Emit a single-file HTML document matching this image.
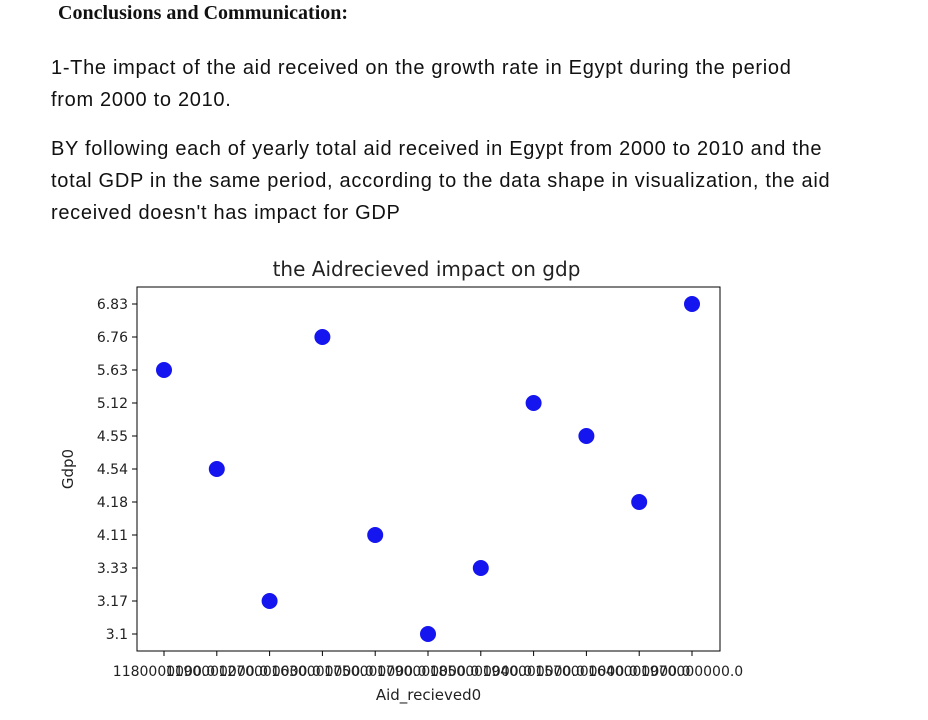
<!DOCTYPE html>
<html><head><meta charset="utf-8"><style>
body{margin:0;width:928px;height:720px;background:#fff;overflow:hidden;position:relative;font-family:"Liberation Sans",sans-serif;color:#111}
.t{position:absolute;white-space:nowrap}
</style></head><body>
<div class="t" style="left:58px;top:2px;font-family:'Liberation Serif',serif;font-weight:bold;font-size:20px">Conclusions and Communication:</div>
<div class="t" style="left:51px;top:52px;font-size:20px;letter-spacing:0.7px;line-height:32px">1-The impact of the aid received on the growth rate in Egypt during the period<br>from 2000 to 2010.</div>
<div class="t" style="left:51px;top:133px;font-size:20px;letter-spacing:0.7px;line-height:32px">BY following each of yearly total aid received in Egypt from 2000 to 2010 and the<br>total GDP in the same period, according to the data shape in visualization, the aid<br>received doesn't has impact for GDP</div>
<svg id="chart" width="928" height="720" style="position:absolute;left:0;top:0" font-family="DejaVu Sans, sans-serif"></svg>
<script>
const xLabels=["1180000000.0","1190000000.0","1270000000.0","1630000000.0","1750000000.0","1790000000.0","1850000000.0","1940000000.0","1570000000.0","1640000000.0","1970000000.0"];
const yLabels=["3.1","3.17","3.33","4.11","4.18","4.54","4.55","5.12","5.63","6.76","6.83"];
const pointX=["1180000000.0","1190000000.0","1270000000.0","1630000000.0","1750000000.0","1790000000.0","1850000000.0","1940000000.0","1570000000.0","1640000000.0","1970000000.0"];
const pointY=["5.63","4.54","3.17","6.76","4.11","3.1","3.33","5.12","4.55","4.18","6.83"];
const svg=document.getElementById('chart');const NS='http://www.w3.org/2000/svg';
const L=137,R=720,T=287,B=651;
function xs(c){const i=xLabels.indexOf(c);return 164+i*(692-164)/(xLabels.length-1);}
function ys(c){const i=yLabels.indexOf(c);return 634-i*(634-304)/(yLabels.length-1);}
function mk(tag,a,txt){const e=document.createElementNS(NS,tag);for(const k in a)e.setAttribute(k,a[k]);if(txt!==undefined)e.textContent=txt;svg.appendChild(e);return e;}
let e=mk('rect',{x:L,y:T,width:R-L,height:B-T,fill:'none',stroke:'#000','stroke-width':1});


e=mk('text',{x:(L+R)/2-2,y:276,'text-anchor':'middle','font-size':20,fill:'#222'},'the Aidrecieved impact on gdp');


yLabels.forEach(c=>{const y=ys(c);
let l=mk('line',{x1:L-5,x2:L,y1:y,y2:y,stroke:'#000'});


let t=mk('text',{x:L-9,y:y+5,'text-anchor':'end','font-size':14,fill:'#222'},c);

});
xLabels.forEach(c=>{const x=xs(c);
let l=mk('line',{x1:x,x2:x,y1:B,y2:B+5,stroke:'#000'});


let t=mk('text',{x:x,y:676,'text-anchor':'middle','font-size':14,fill:'#222'},c);

});
e=mk('text',{x:(L+R)/2,y:700,'text-anchor':'middle','font-size':15,fill:'#222'},'Aid_recieved0');


e=mk('text',{x:0,y:0,'text-anchor':'middle','font-size':15,fill:'#222',transform:'translate(73,469) rotate(-90)'},'Gdp0');


pointX.forEach((c,i)=>{let p=mk('circle',{cx:xs(c),cy:ys(pointY[i]),r:8,fill:'#1515f0'});

});
</script>
</body></html>
